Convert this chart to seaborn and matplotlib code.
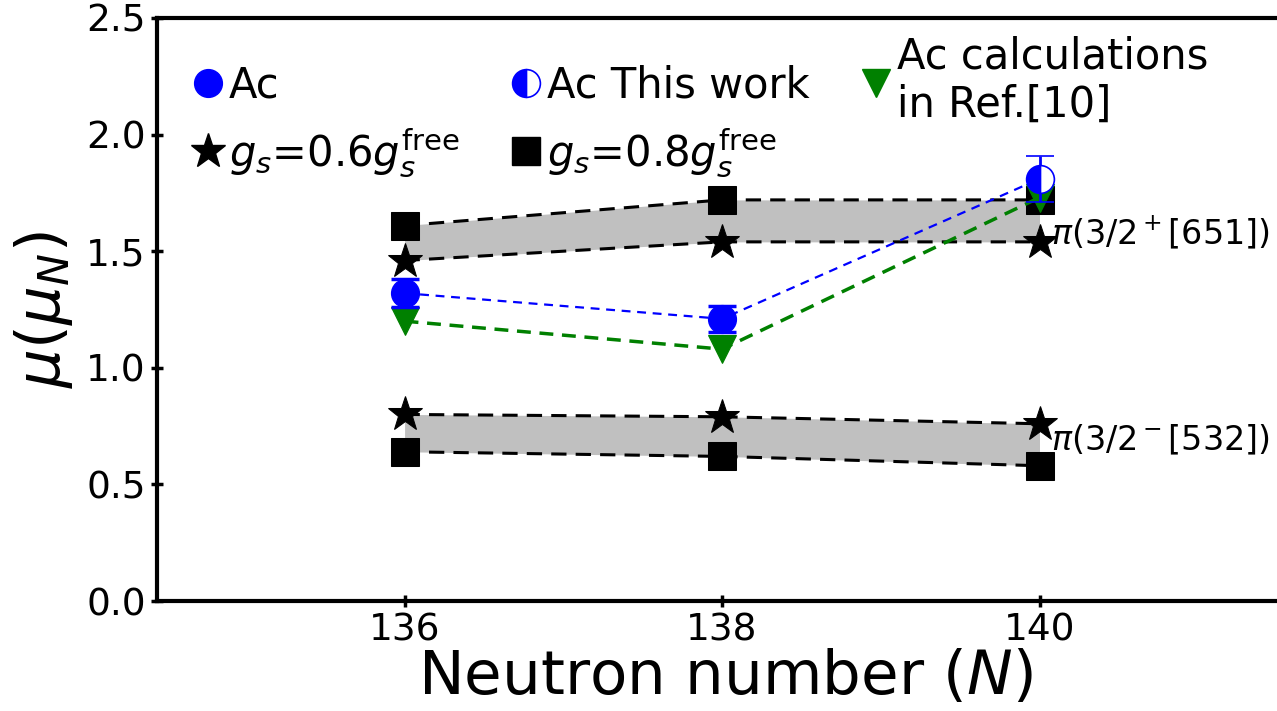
import matplotlib
matplotlib.use("Agg")
import matplotlib.pyplot as plt
import seaborn as sns
import pandas as pd
from matplotlib.lines import Line2D

# ---- data ----
N = [136, 138, 140]
ac_N = [136, 138]
ac_mu = [1.32, 1.21]
ac_err = [0.06, 0.055]
tw_N = [140]
tw_mu = [1.81]
tw_err = [0.10]
calc_mu = [1.20, 1.08, 1.73]
upper_06 = [1.46, 1.54, 1.54]   # pi(3/2+[651]), gs=0.6 gs_free
upper_08 = [1.61, 1.72, 1.72]   # pi(3/2+[651]), gs=0.8 gs_free
lower_06 = [0.80, 0.79, 0.76]   # pi(3/2-[532]), gs=0.6
lower_08 = [0.64, 0.62, 0.58]   # pi(3/2-[532]), gs=0.8
xticks = [136, 138, 140]
yticks = [0.0, 0.5, 1.0, 1.5, 2.0, 2.5]
label_upper = r'$\pi(3/2^+[651])$'
label_lower = r'$\pi(3/2^-[532])$'

sns.set_style("ticks")
plt.rcParams['font.family'] = ['DejaVu Sans']
plt.rcParams['mathtext.fontset'] = 'dejavusans'
plt.rcParams['text.color'] = 'black'
plt.rcParams['axes.labelcolor'] = 'black'
plt.rcParams['xtick.color'] = 'black'
plt.rcParams['ytick.color'] = 'black'
plt.rcParams['axes.edgecolor'] = 'black'

fig = plt.figure(figsize=(12.77, 7.11), dpi=100)
ax = fig.add_axes([0.1229, 0.1547, 0.890, 0.8200])

# shaded bands
ax.fill_between(N, upper_06, upper_08, color='silver', lw=0, zorder=1)
ax.fill_between(N, lower_06, lower_08, color='silver', lw=0, zorder=1)

band_df = pd.DataFrame({'N': N, 'u06': upper_06, 'u08': upper_08,
                        'l06': lower_06, 'l08': lower_08, 'calc': calc_mu})
for col, mk, ms in [('u08', 's', 20), ('u06', '*', 26), ('l08', 's', 20), ('l06', '*', 26)]:
    sns.lineplot(data=band_df, x='N', y=col, ax=ax, color='black', lw=2.2,
                 linestyle=(0, (5, 3)), marker=mk, markersize=ms,
                 markeredgecolor='black', zorder=3)

# calculations line
sns.lineplot(data=band_df, x='N', y='calc', ax=ax, color='green', lw=2.5,
             linestyle=(0, (4, 2.5)), marker='v', markersize=20,
             markeredgecolor='green', zorder=4)

# Ac experimental line (connect to this work)
all_N = ac_N + tw_N
all_mu = ac_mu + tw_mu
ac_df = pd.DataFrame({'N': all_N, 'mu': all_mu})
sns.lineplot(data=ac_df, x='N', y='mu', ax=ax, color='blue', lw=1.6,
             linestyle=(0, (4, 3)), zorder=5)
ax.errorbar(ac_N, ac_mu, yerr=ac_err, fmt='o', color='blue', ms=20,
            capsize=10, capthick=2.5, elinewidth=2, zorder=6)
ax.errorbar(tw_N, tw_mu, yerr=tw_err, fmt='o', color='blue', ms=20,
            fillstyle='left', markerfacecolor='blue', markerfacecoloralt='white',
            markeredgecolor='blue', markeredgewidth=1.2,
            capsize=10, capthick=2.5, elinewidth=2, zorder=6)

ax.text(140.07, 1.58, label_upper, fontsize=24, va='center', ha='left', zorder=7)
ax.text(140.07, 0.69, label_lower, fontsize=24, va='center', ha='left', zorder=7)

ax.set_xlim(134.44, 141.6)
ax.set_ylim(0, 2.5)
ax.set_xticks(xticks)
ax.set_yticks(yticks)
ax.set_xticklabels([str(t) for t in xticks], fontsize=27)
ax.set_yticklabels([f'{t:.1f}' for t in yticks], fontsize=27)
ax.tick_params(direction='inout', length=8, width=2.5, pad=4)
for s in ['left', 'bottom', 'top', 'right']:
    ax.spines[s].set_linewidth(3)
ax.set_xlabel(r'Neutron number ($N$)', fontsize=44, labelpad=0)
ax.set_ylabel(r'$\mu(\mu_N)$', fontsize=44, labelpad=8)

handles = [
    Line2D([], [], ls='none', marker='o', ms=20, color='blue'),
    Line2D([], [], ls='none', marker='*', ms=26, color='black'),
    Line2D([], [], ls='none', marker='o', ms=20, color='blue', fillstyle='left',
           markerfacecoloralt='white', markeredgewidth=1.2),
    Line2D([], [], ls='none', marker='s', ms=20, color='black'),
    Line2D([], [], ls='none', marker='v', ms=20, color='green'),
]
labels = ['Ac', r'$g_s$=0.6$g_s^{\rm free}$', 'Ac This work',
          r'$g_s$=0.8$g_s^{\rm free}$', 'Ac calculations\nin Ref.[10]']
ax.legend(handles, labels, ncol=3, loc='upper left', bbox_to_anchor=(0.03, 0.97),
          frameon=False, fontsize=30, handlelength=0.8, handletextpad=0.1,
          columnspacing=1.2, labelspacing=0.45, borderaxespad=0, borderpad=0)

fig.savefig('out.png', dpi=100)
